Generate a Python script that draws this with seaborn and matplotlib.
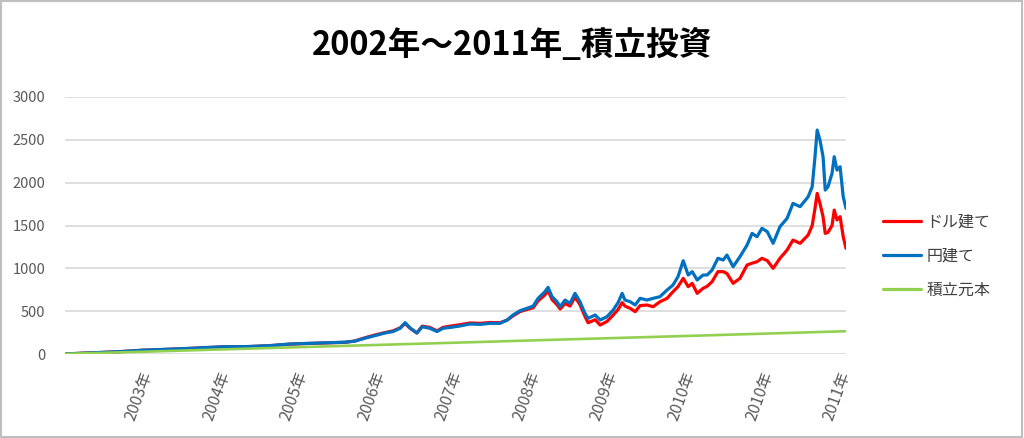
import pandas as pd
import numpy as np
import matplotlib.pyplot as plt
import seaborn as sns
from matplotlib.patches import Rectangle

# values (x = trading-day index from the start)
day = [0, 48, 113, 177, 252, 306, 348, 403, 468, 516, 565, 597, 661, 726, 790, 855,
       903, 935, 968, 1000, 1032, 1058, 1081, 1097, 1113, 1135, 1152, 1177, 1200, 1219,
       1242, 1274, 1306, 1339, 1371, 1403, 1426, 1445, 1468, 1490, 1510, 1526, 1548,
       1558, 1571, 1587, 1597, 1613, 1629, 1645, 1661, 1677, 1687, 1710, 1726, 1748,
       1768, 1784, 1797, 1806, 1823, 1839,
       1855, 1877, 1897, 1919, 1942, 1961, 1977, 1994, 2010, 2023, 2039, 2058, 2071,
       2087, 2106, 2123, 2135, 2155, 2177, 2200, 2216, 2232, 2248, 2265, 2284, 2306,
       2329, 2348, 2371, 2397,
       2410, 2419, 2426, 2435, 2445, 2452, 2461, 2474, 2481, 2490, 2500, 2510, 2519]

yen = [0, 8, 18, 28, 45, 52, 58, 66, 78, 85, 85, 88, 98, 117, 125, 132,
       138, 150, 185, 215, 245, 262, 300, 366, 305, 245, 318, 300, 262, 300,
       310, 327, 350, 346, 358, 358, 397, 455, 506, 533, 560, 650, 727,
       778, 669, 610, 552, 630, 591, 708, 610, 475, 416, 455, 397, 435,
       513, 600, 708, 630, 610, 572,
       650, 630, 650, 669, 747, 805, 902, 1089, 922, 961, 864, 922, 922,
       980, 1117, 1097, 1155, 1019, 1136, 1272, 1408, 1369, 1467, 1428, 1292, 1486,
       1584, 1758, 1720, 1836,
       1953, 2303, 2614, 2497, 2303, 1914, 1953, 2109, 2303, 2147, 2186, 1836, 1700]

usd = [0, 8, 17, 27, 44, 51, 57, 65, 76, 84, 84, 87, 97, 115, 123, 131,
       136, 152, 190, 222, 250, 270, 305, 355, 300, 245, 325, 310, 270, 310,
       325, 342, 362, 358, 368, 365, 395, 445, 495, 520, 540, 620, 690,
       740, 635, 575, 525, 590, 560, 665, 575, 440, 365, 400, 338, 380,
       455, 520, 600, 560, 533, 494,
       565, 572, 552, 610, 650, 727, 786, 883, 786, 825, 708, 767, 790,
       844, 961, 961, 940, 825, 883, 1039, 1060, 1077, 1117, 1090, 1000, 1117,
       1214, 1330, 1292, 1389,
       1500, 1700, 1875, 1758, 1603, 1408, 1420, 1500, 1680, 1564, 1603, 1369, 1233]

principal_day = [0, 268, 518, 768, 1018, 1268, 1518, 1768, 2018, 2268, 2519]
principal = [2, 28, 55, 81, 107, 133, 160, 186, 212, 239, 266]

tick_days = [268, 518, 768, 1018, 1268, 1518, 1768, 2018, 2268, 2518]
tick_labels = ['2003年', '2004年', '2005年', '2006年', '2007年',
               '2008年', '2009年', '2010年', '2010年', '2011年']

series_names = ['ドル建て', '円建て', '積立元本']
colors = {'ドル建て': '#ff0000', '円建て': '#0070c0', '積立元本': '#92d050'}

df = pd.concat([
    pd.DataFrame({'day': day, 'value': usd, 'series': 'ドル建て'}),
    pd.DataFrame({'day': day, 'value': yen, 'series': '円建て'}),
    pd.DataFrame({'day': principal_day, 'value': principal, 'series': '積立元本'}),
])

sns.set_theme(style='white')
plt.rcParams['font.family'] = ['Noto Sans CJK JP', 'DejaVu Sans']

fig = plt.figure(figsize=(10.24, 4.38), dpi=100)
ax = fig.add_axes([65 / 1024, 1 - 354 / 438, (846 - 65) / 1024, (354 - 97) / 438])

sns.lineplot(data=df, x='day', y='value', hue='series', hue_order=series_names,
             palette=colors, estimator=None, sort=False, linewidth=2.3, ax=ax)
ax.lines[2].set_linewidth(1.9)

ax.set_xlim(0, 2519)
ax.set_ylim(0, 3000)
ax.set_yticks(range(0, 3001, 500))
ax.yaxis.grid(True, color='#d9d9d9', linewidth=1.2)
ax.set_axisbelow(True)
for s in ax.spines.values():
    s.set_visible(False)
ax.set_xlabel('')
ax.set_ylabel('')
ax.tick_params(axis='y', length=0, pad=14, labelsize=10.5, labelcolor='#595959')
ax.set_xticks(tick_days)
ax.set_xticklabels(tick_labels)
ax.tick_params(axis='x', length=0, pad=13, labelsize=11.5, labelcolor='#595959')
plt.setp(ax.get_xticklabels(), rotation=70, ha='right', va='center',
         rotation_mode='anchor')

handles, labels = ax.get_legend_handles_labels()
ax.get_legend().remove()
leg = fig.legend(handles, labels, loc='center left', bbox_to_anchor=(883 / 1024, 1 - 256 / 438),
                 frameon=False, fontsize=11.5, labelspacing=1.05, handlelength=2.4,
                 handletextpad=0.3, borderpad=0, borderaxespad=0)
for t in leg.get_texts():
    t.set_color('#404040')

fig.text(0.5, 1 - 45 / 438, '2002年～2011年_積立投資', ha='center', va='center',
         fontsize=23.5, fontweight='bold', color='#000000')

fig.patches.append(Rectangle((0.001, 0.002), 0.997, 0.995, transform=fig.transFigure,
                             fill=False, edgecolor='#bfbfbf', linewidth=1.5))

fig.savefig('out.png', dpi=100)
